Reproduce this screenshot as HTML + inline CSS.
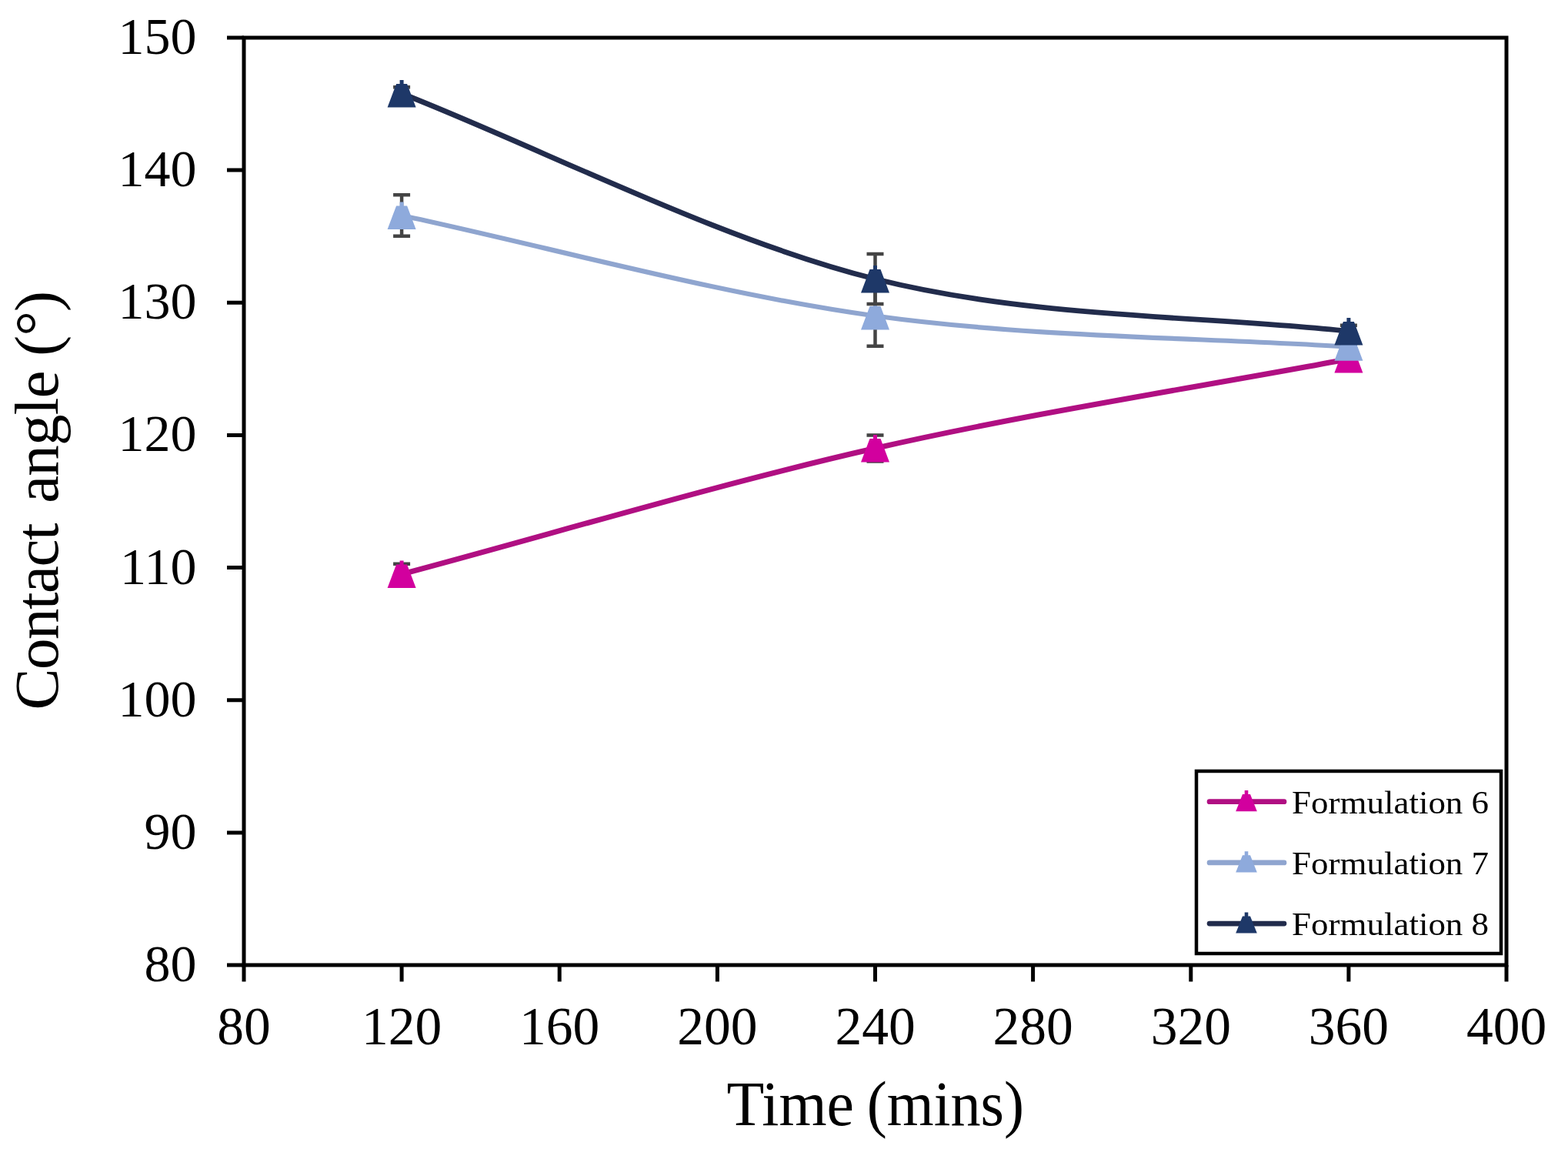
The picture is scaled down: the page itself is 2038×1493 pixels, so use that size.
<!DOCTYPE html>
<html><head><meta charset="utf-8"><title>Contact angle chart</title><style>
html,body{margin:0;padding:0;background:#fff;}
svg{display:block;}
</style></head><body>
<svg width="2038" height="1493" viewBox="0 0 2038 1493">
<rect width="2038" height="1493" fill="#fff"/>
<g font-family="Liberation Serif, 'Times New Roman', serif" fill="#000">
<text x="255.4" y="1274.9" text-anchor="end" font-size="68">80</text>
<text x="255.4" y="1102.8" text-anchor="end" font-size="68">90</text>
<text x="255.4" y="930.6" text-anchor="end" font-size="68">100</text>
<text x="255.4" y="758.5" text-anchor="end" font-size="68">110</text>
<text x="255.4" y="586.3" text-anchor="end" font-size="68">120</text>
<text x="255.4" y="414.2" text-anchor="end" font-size="68">130</text>
<text x="255.4" y="242.0" text-anchor="end" font-size="68">140</text>
<text x="255.4" y="69.9" text-anchor="end" font-size="68">150</text>
<text x="317.0" y="1357.2" text-anchor="middle" font-size="69.5">80</text>
<text x="522.1" y="1357.2" text-anchor="middle" font-size="69.5">120</text>
<text x="727.2" y="1357.2" text-anchor="middle" font-size="69.5">160</text>
<text x="932.4" y="1357.2" text-anchor="middle" font-size="69.5">200</text>
<text x="1137.5" y="1357.2" text-anchor="middle" font-size="69.5">240</text>
<text x="1342.6" y="1357.2" text-anchor="middle" font-size="69.5">280</text>
<text x="1547.8" y="1357.2" text-anchor="middle" font-size="69.5">320</text>
<text x="1752.9" y="1357.2" text-anchor="middle" font-size="69.5">360</text>
<text x="1958.0" y="1357.2" text-anchor="middle" font-size="69.5">400</text>
<text x="944.4" y="1462" font-size="82.5" textLength="165.65" lengthAdjust="spacingAndGlyphs">Time</text>
<text x="1126.8" y="1462" font-size="82.5" textLength="204.2" lengthAdjust="spacingAndGlyphs">(mins)</text>
<text transform="translate(75.3,922.6) rotate(-90)" font-size="81" textLength="243.05" lengthAdjust="spacing">Contact</text>
<text transform="translate(75.3,653.8) rotate(-90)" font-size="81" textLength="275.8" lengthAdjust="spacing">angle (°)</text>
</g>
<path d="M295,1254.0H317M295,1081.9H317M295,909.7H317M295,737.6H317M295,565.4H317M295,393.3H317M295,221.1H317M295,49.0H317M317.0,1254V1275.5M522.1,1254V1275.5M727.2,1254V1275.5M932.4,1254V1275.5M1137.5,1254V1275.5M1342.6,1254V1275.5M1547.8,1254V1275.5M1752.9,1254V1275.5M1958.0,1254V1275.5" stroke="#000" stroke-width="5" fill="none"/>
<rect x="317" y="49" width="1641" height="1205" fill="none" stroke="#000" stroke-width="5"/>
<path d="M522.1,746.0 C706.7,697.0 932.4,629.1 1137.5,582.5 C1342.6,535.9 1568.3,501.3 1752.9,466.5" fill="none" stroke="#b00f82" stroke-width="7" stroke-linecap="round"/>
<path d="M522.1,280.0 C706.7,319.1 932.4,382.1 1137.5,410.5 C1342.6,438.9 1568.3,438.6 1752.9,450.7" fill="none" stroke="#8fa5cf" stroke-width="6.2" stroke-linecap="round"/>
<path d="M522.1,121.5 C706.7,193.8 932.4,311.0 1137.5,362.5 C1342.6,414.0 1568.3,410.1 1752.9,430.5" fill="none" stroke="#222c4c" stroke-width="6.8" stroke-linecap="round"/>
<path d="M522.1,732.7V759.3M511.1,732.7H533.1M511.1,759.3H533.1" stroke="#444" stroke-width="4.5" fill="none"/>
<path d="M1137.5,565.5V599.5M1126.5,565.5H1148.5M1126.5,599.5H1148.5" stroke="#444" stroke-width="4.5" fill="none"/>
<path d="M1752.9,462.5V470.5M1741.9,462.5H1763.9M1741.9,470.5H1763.9" stroke="#444" stroke-width="4.5" fill="none"/>
<polygon points="519.6,728.5 524.6,728.5 524.6,733.5 529.1,733.5 540.6,764.0 503.6,764.0 515.1,733.5 519.6,733.5" fill="#d2009e"/>
<polygon points="1135.0,565.0 1140.0,565.0 1140.0,570.0 1144.5,570.0 1156.0,600.5 1119.0,600.5 1130.5,570.0 1135.0,570.0" fill="#d2009e"/>
<polygon points="1750.4,449.0 1755.4,449.0 1755.4,454.0 1759.9,454.0 1771.4,484.5 1734.4,484.5 1745.9,454.0 1750.4,454.0" fill="#d2009e"/>
<path d="M522.1,253.2V306.8M511.1,253.2H533.1M511.1,306.8H533.1" stroke="#444" stroke-width="4.5" fill="none"/>
<path d="M1137.5,371.3V449.7M1126.5,371.3H1148.5M1126.5,449.7H1148.5" stroke="#444" stroke-width="4.5" fill="none"/>
<path d="M1752.9,446.7V454.7M1741.9,446.7H1763.9M1741.9,454.7H1763.9" stroke="#444" stroke-width="4.5" fill="none"/>
<polygon points="519.6,262.5 524.6,262.5 524.6,267.5 529.1,267.5 540.6,298.0 503.6,298.0 515.1,267.5 519.6,267.5" fill="#8eaadc"/>
<polygon points="1135.0,393.0 1140.0,393.0 1140.0,398.0 1144.5,398.0 1156.0,428.5 1119.0,428.5 1130.5,398.0 1135.0,398.0" fill="#8eaadc"/>
<polygon points="1750.4,433.2 1755.4,433.2 1755.4,438.2 1759.9,438.2 1771.4,468.7 1734.4,468.7 1745.9,438.2 1750.4,438.2" fill="#8eaadc"/>
<path d="M522.1,113.2V129.8M511.1,113.2H533.1M511.1,129.8H533.1" stroke="#444" stroke-width="4.5" fill="none"/>
<path d="M1137.5,330.1V394.9M1126.5,330.1H1148.5M1126.5,394.9H1148.5" stroke="#444" stroke-width="4.5" fill="none"/>
<path d="M1752.9,422.7V438.3M1741.9,422.7H1763.9M1741.9,438.3H1763.9" stroke="#444" stroke-width="4.5" fill="none"/>
<polygon points="519.6,104.0 524.6,104.0 524.6,109.0 529.1,109.0 540.6,139.5 503.6,139.5 515.1,109.0 519.6,109.0" fill="#1e3868"/>
<polygon points="1135.0,345.0 1140.0,345.0 1140.0,350.0 1144.5,350.0 1156.0,380.5 1119.0,380.5 1130.5,350.0 1135.0,350.0" fill="#1e3868"/>
<polygon points="1750.4,413.0 1755.4,413.0 1755.4,418.0 1759.9,418.0 1771.4,448.5 1734.4,448.5 1745.9,418.0 1750.4,418.0" fill="#1e3868"/>
<rect x="1555" y="1002" width="396" height="237" fill="#fff" stroke="#000" stroke-width="4.5"/>
<line x1="1572" y1="1041.7" x2="1669" y2="1041.7" stroke="#b00f82" stroke-width="6.7" stroke-linecap="round"/>
<polygon points="1617.7,1027.1 1622.3,1027.1 1622.3,1032.1 1625.0,1032.1 1633.8,1054.2 1606.2,1054.2 1615.0,1032.1 1617.7,1032.1" fill="#d2009e"/>
<text x="1679" y="1056.7" font-size="42" textLength="256.1" lengthAdjust="spacingAndGlyphs" font-family="Liberation Serif, 'Times New Roman', serif">Formulation 6</text>
<line x1="1572" y1="1120.9" x2="1669" y2="1120.9" stroke="#8fa5cf" stroke-width="6.7" stroke-linecap="round"/>
<polygon points="1617.7,1106.3 1622.3,1106.3 1622.3,1111.3 1625.0,1111.3 1633.8,1133.4 1606.2,1133.4 1615.0,1111.3 1617.7,1111.3" fill="#8eaadc"/>
<text x="1679" y="1135.9" font-size="42" textLength="256.1" lengthAdjust="spacingAndGlyphs" font-family="Liberation Serif, 'Times New Roman', serif">Formulation 7</text>
<line x1="1572" y1="1200.1" x2="1669" y2="1200.1" stroke="#222c4c" stroke-width="6.7" stroke-linecap="round"/>
<polygon points="1617.7,1185.5 1622.3,1185.5 1622.3,1190.5 1625.0,1190.5 1633.8,1212.6 1606.2,1212.6 1615.0,1190.5 1617.7,1190.5" fill="#1e3868"/>
<text x="1679" y="1215.1" font-size="42" textLength="256.1" lengthAdjust="spacingAndGlyphs" font-family="Liberation Serif, 'Times New Roman', serif">Formulation 8</text>
</svg>
</body></html>
